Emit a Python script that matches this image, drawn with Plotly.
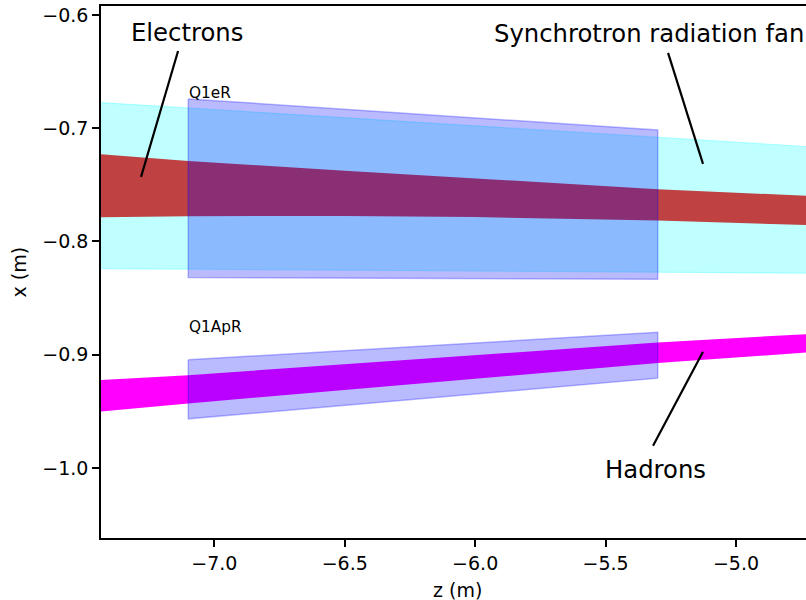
import plotly.graph_objects as go

# Beam envelopes along z (m); x in m
fan_z = [-7.5, -4.7]
fan_top = [-0.6764, -0.7166]
fan_bottom = [-0.8238, -0.8281]

electron_z = [-7.5, -7.1, -6.5, -6.0, -5.3, -4.7]
electron_top = [-0.7218, -0.7289, -0.7375, -0.7445, -0.7538, -0.7600]
electron_bottom = [-0.7788, -0.7777, -0.7774, -0.7785, -0.7815, -0.7857]

hadron_z = [-7.5, -7.1, -5.3, -4.7]
hadron_top = [-0.9231, -0.9180, -0.8892, -0.8814]
hadron_bottom = [-0.9515, -0.9430, -0.9074, -0.8975]

# Magnet apertures
q1er_z = [-7.1, -5.3]
q1er_top = [-0.6741, -0.7015]
q1er_bottom = [-0.8318, -0.8333]

q1apr_z = [-7.1, -5.3]
q1apr_top = [-0.9045, -0.8801]
q1apr_bottom = [-0.9566, -0.9207]

x_ticks = [-7.0, -6.5, -6.0, -5.5, -5.0]
y_ticks = [-1.0, -0.9, -0.8, -0.7, -0.6]

FONT = "DejaVu Sans"


def band(z, top, bottom, fill, line=None, width=1.0):
    zs = list(z) + list(z)[::-1] + [z[0]]
    xs = list(top) + list(bottom)[::-1] + [top[0]]
    return go.Scatter(
        x=zs, y=xs, mode="lines", fill="toself", fillcolor=fill,
        line=dict(color=line if line else "rgba(0,0,0,0)", width=width if line else 0),
        hoverinfo="skip", showlegend=False,
    )


fig = go.Figure()
fig.add_trace(band(fan_z, fan_top, fan_bottom, "rgba(0,255,255,0.25)", "rgba(0,255,255,0.25)", 1.2))
fig.add_trace(band(electron_z, electron_top, electron_bottom, "rgb(191,65,65)"))
fig.add_trace(band(hadron_z, hadron_top, hadron_bottom, "rgb(255,0,255)"))
fig.add_trace(band(q1er_z, q1er_top, q1er_bottom, "rgba(0,0,255,0.27)", "rgba(0,0,255,0.27)", 1.5))
fig.add_trace(band(q1apr_z, q1apr_top, q1apr_bottom, "rgba(0,0,255,0.27)", "rgba(0,0,255,0.27)", 1.5))

# Label leader lines: (text end) -> (point on beam)
leaders = [
    ((-7.139, -0.6318), (-7.281, -0.743)),
    ((-5.2604, -0.6335), (-5.1265, -0.7315)),
    ((-5.318, -0.9804), (-5.1265, -0.8974)),
]
for (z0, x0), (z1, x1) in leaders:
    fig.add_shape(type="line", x0=z0, y0=x0, x1=z1, y1=x1, xref="x", yref="y",
                  line=dict(color="black", width=2.2))

labels = [
    ("Electrons", -7.105, -0.6155),
    ("Synchrotron radiation fan", -5.335, -0.6168),
    ("Hadrons", -5.308, -1.0016),
]
for text, z, x in labels:
    fig.add_annotation(x=z, y=x, text=text, showarrow=False, xanchor="center", yanchor="middle",
                       font=dict(family=FONT, size=24.3, color="black"))

for text, z, x in [("Q1eR", -7.1, -0.6689), ("Q1ApR", -7.1, -0.8754)]:
    fig.add_annotation(x=z, y=x, text=text, showarrow=False, xanchor="left", yanchor="middle",
                       xshift=-1, font=dict(family=FONT, size=15.3, color="black"))

# Axis titles
fig.add_annotation(xref="paper", yref="paper", x=(458 - 101) / 705, y=(538 - 590) / 532,
                   text="z (m)", showarrow=False, xanchor="center", yanchor="middle",
                   font=dict(family=FONT, size=19, color="black"))
fig.add_annotation(xref="paper", yref="paper", x=(18.5 - 101) / 705, y=(538 - 272) / 532,
                   text="x (m)", showarrow=False, xanchor="center", yanchor="middle", textangle=-90,
                   font=dict(family=FONT, size=19, color="black"))

fig.update_layout(
    width=806, height=600,
    margin=dict(l=101, r=0, t=6, b=62),
    paper_bgcolor="white", plot_bgcolor="white",
    font=dict(family=FONT, size=19, color="black"),
    showlegend=False,
)
fig.update_xaxes(
    range=[-7.4345, -4.7316], tickvals=x_ticks, tickformat=".1f",
    showgrid=False, zeroline=False, showline=True, linecolor="black", linewidth=1.5,
    mirror=True, ticks="outside", ticklen=7, tickwidth=1.5, tickcolor="black",
)
fig.update_yaxes(
    range=[-1.0618, -0.5921], tickvals=y_ticks, tickformat=".1f",
    showgrid=False, zeroline=False, showline=True, linecolor="black", linewidth=1.5,
    mirror=False, ticks="outside", ticklen=7, tickwidth=1.5, tickcolor="black",
)

fig.write_html("out.html")
